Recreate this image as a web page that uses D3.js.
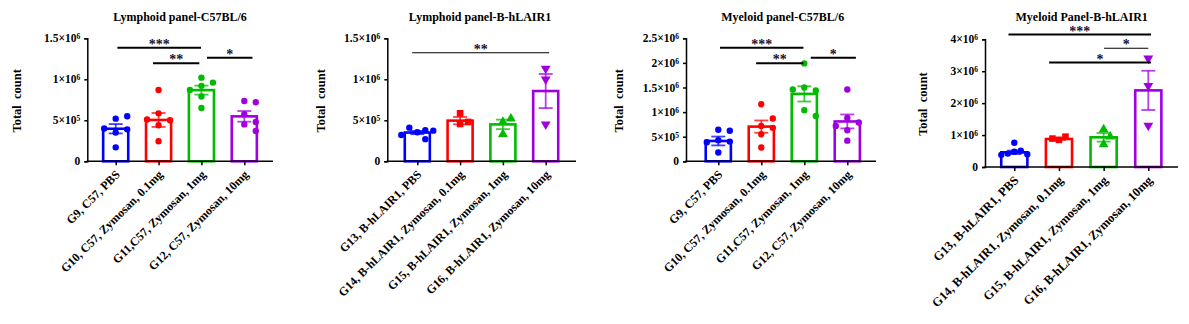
<!DOCTYPE html>
<html><head><meta charset="utf-8">
<script src="https://cdn.jsdelivr.net/npm/d3@7"></script>
<style>
body{margin:0;background:#fff}
text{font-family:"Liberation Serif","Times New Roman",serif;font-weight:bold;fill:#000}
</style>
</head><body>
<svg id="chart" width="1189" height="324"></svg>
<script>
// ---------- DATA ----------
const titles = ["Lymphoid panel-C57BL/6","Lymphoid panel-B-hLAIR1","Myeloid panel-C57BL/6","Myeloid Panel-B-hLAIR1"];
const catsC57 = ["G9, C57, PBS","G10, C57, Zymosan, 0.1mg","G11,C57, Zymosan, 1mg","G12, C57, Zymosan, 10mg"];
const catsB = ["G13, B-hLAIR1, PBS","G14, B-hLAIR1, Zymosan, 0.1mg","G15, B-hLAIR1, Zymosan, 1mg","G16, B-hLAIR1, Zymosan, 10mg"];
const yLabel = "Total  count";

const ticksLym = [0, 500000, 1000000, 1500000];
const ticksMyeC57 = [0, 500000, 1000000, 1500000, 2000000, 2500000];
const ticksMyeB = [0, 1000000, 2000000, 3000000, 4000000];

// Lymphoid C57BL/6
const lymC57Points = [
  [520000, 550000, 350000, 390000, 400000, 170000],
  [870000, 585000, 500000, 440000, 510000, 245000],
  [920000, 960000, 1020000, 870000, 790000, 650000],
  [735000, 720000, 575000, 450000, 480000, 370000]
];
const lymC57Means = [397000, 504000, 868000, 548000];
const lymC57Sems  = [57000, 85000, 55000, 65000];
const lymC57Sig = [[0.04, 1.99, 1385000, "***", 2], [0.87, 1.95, 1195000, "**", 2], [2.13, 3.19, 1263000, "*", 2]];

// Lymphoid B-hLAIR1
const lymBPoints = [
  [354000, 380000, 410000, 374000, 270000, 320000],
  [455000, 585000, 480000],
  [480000, 520000, 330000],
  [1130000, 1000000, 450000]
];
const lymBMeans = [351000, 496000, 450000, 857000];
const lymBSems  = [20000, 45000, 58000, 208000];
const lymBSig = [[-0.12, 3.08, 1324000, "**", 1.2]];

// Myeloid C57BL/6
const myeC57Points = [
  [640000, 620000, 430000, 400000, 386000, 180000],
  [720000, 870000, 1160000, 680000, 550000, 280000],
  [1500000, 1440000, 1990000, 1460000, 1040000, 920000],
  [1460000, 880000, 790000, 720000, 630000, 420000]
];
const myeC57Means = [413000, 705000, 1370000, 810000];
const myeC57Sems  = [90000, 125000, 155000, 142000];
const myeC57Sig = [[0.04, 1.98, 2309000, "***", 2], [0.88, 1.98, 1992000, "**", 2], [2.15, 3.2, 2106000, "*", 2]];

// Myeloid B-hLAIR1
const myeBPoints = [
  [760000, 510000, 480000, 420000, 400000, 380000],
  [850000, 950000, 890000],
  [1180000, 950000, 710000],
  [3400000, 2540000, 1300000]
];
const myeBMeans = [460000, 877000, 930000, 2400000];
const myeBSems  = [55000, 30000, 135000, 615000];
const myeBSig = [[-0.13, 3.06, 4147000, "***", 2], [2.01, 3.0, 3720000, "*", 1.2], [0.78, 3.06, 3270000, "*", 2]];

// ---------- LAYOUT / STYLE ----------
const colors = ["#0000ff", "#ff0000", "#00bb00", "#a000e0"];
const panels = [
  {title: titles[0], cats: catsC57, pts: lymC57Points, means: lymC57Means, sems: lymC57Sems, sig: lymC57Sig, ticks: ticksLym,
   x0: 87.3, x1: 273, y0: 161.3, y1: 38.3, p0: 115.7, p3: 244.3, tx: 180, yl: 17, sym: "circle", sp: 11.5},
  {title: titles[1], cats: catsB, pts: lymBPoints, means: lymBMeans, sems: lymBSems, sig: lymBSig, ticks: ticksLym,
   x0: 387.3, x1: 576, y0: 161.3, y1: 38.3, p0: 417.3, p3: 545.7, tx: 480, yl: 320.7, sym: "mixed", sp: 8},
  {title: titles[2], cats: catsC57, pts: myeC57Points, means: myeC57Means, sems: myeC57Sems, sig: myeC57Sig, ticks: ticksMyeC57,
   x0: 686, x1: 876, y0: 161.3, y1: 38.3, p0: 718.3, p3: 847.3, tx: 782.7, yl: 619.3, sym: "circle", sp: 11.5},
  {title: titles[3], cats: catsB, pts: myeBPoints, means: myeBMeans, sems: myeBSems, sig: myeBSig, ticks: ticksMyeB,
   x0: 985, x1: 1178, y0: 167, y1: 39.3, p0: 1014.3, p3: 1148.3, tx: 1081.7, yl: 922.7, sym: "mixed", sp: 6.5}
];

const svg = d3.select("#chart");
const FONT = '"Liberation Serif","Times New Roman",serif';
const symTypes = [d3.symbolCircle, d3.symbolSquare, d3.symbolTriangle, d3.symbolTriangle];
const symSizes = [32, 44, 42, 42];

function supLabel(sel, v) {
  sel.text(null);
  if (v === 0) { sel.text("0"); return; }
  const e = Math.floor(Math.log10(v) + 1e-9);
  const m = +(v / Math.pow(10, e)).toFixed(2);
  sel.append("tspan").text(m + "\u00d710");
  sel.append("tspan").attr("dy", "-0.45em").attr("font-size", "7.5px").text(e);
}

panels.forEach(P => {
  const g = svg.append("g");
  const ymax = P.ticks[P.ticks.length - 1];
  const y = d3.scaleLinear().domain([0, ymax]).range([P.y0, P.y1]);
  const x = d3.scalePoint().domain(P.cats).range([P.p0, P.p3]);
  const step = x.step();
  const fx = f => P.p0 + f * step;
  const bw = step * 0.585;

  g.append("text").attr("x", P.tx).attr("y", 21).attr("text-anchor", "middle")
    .attr("font-size", "12px").text(P.title);
  g.append("text").attr("transform", `translate(${P.yl + 4},${(P.y0 + P.y1) / 2 + 1}) rotate(-90)`)
    .attr("text-anchor", "middle").attr("font-size", "12.5px").attr("xml:space", "preserve").text(yLabel);

  P.cats.forEach((c, i) => {
    g.append("rect").attr("x", x(c) - bw / 2).attr("y", y(P.means[i]))
      .attr("width", bw).attr("height", P.y0 - y(P.means[i]))
      .attr("fill", "none").attr("stroke", colors[i]).attr("stroke-width", 2.6);
  });

  P.cats.forEach((c, i) => {
    const cx = x(c), hi = y(P.means[i] + P.sems[i]), lo = y(P.means[i] - P.sems[i]);
    const eg = g.append("g").attr("stroke", colors[i]).attr("stroke-width", 1.8).attr("stroke-opacity", 0.75);
    eg.append("line").attr("x1", cx).attr("x2", cx).attr("y1", hi).attr("y2", lo);
    eg.append("line").attr("x1", cx - 7).attr("x2", cx + 7).attr("y1", hi).attr("y2", hi);
    eg.append("line").attr("x1", cx - 7).attr("x2", cx + 7).attr("y1", lo).attr("y2", lo);
  });

  P.cats.forEach((c, i) => {
    const placed = [];
    const order = [0, 1, -1, 2, -2, 3, -3];
    P.pts[i].forEach(v => {
      const py = y(v);
      let off = 0;
      for (const k of order) {
        const px = x(c) + k * P.sp;
        if (!placed.some(q => Math.abs(q[0] - px) < P.sp * 0.9 && Math.abs(q[1] - py) < 8)) { off = k * P.sp; break; }
      }
      placed.push([x(c) + off, py]);
    });
    placed.forEach(([px, py]) => {
      const si = P.sym === "circle" ? 0 : i;
      g.append("path").attr("d", d3.symbol().type(symTypes[si]).size(symSizes[si])())
        .attr("transform", `translate(${px},${py})` + (si === 3 ? " rotate(180)" : ""))
        .attr("fill", colors[i]);
    });
  });

  const ya = d3.axisLeft(y).tickValues(P.ticks).tickSize(3).tickPadding(4);
  const yg = g.append("g").attr("transform", `translate(${P.x0},0)`).call(ya)
    .attr("font-family", FONT).attr("font-weight", "bold");
  yg.select(".domain").attr("stroke-width", 1.5);
  yg.selectAll(".tick line").attr("stroke-width", 1.5);
  yg.selectAll(".tick text").attr("font-size", "11.5px").style("font-family", FONT)
    .each(function(v){ supLabel(d3.select(this), v); });

  g.append("line").attr("x1", P.x0 - 0.75).attr("x2", P.x1).attr("y1", P.y0).attr("y2", P.y0)
    .attr("stroke", "#000").attr("stroke-width", 1.5);
  const xa = d3.axisBottom(x).tickSize(4).tickFormat("");
  const xg = g.append("g").attr("transform", `translate(0,${P.y0})`).call(xa);
  xg.select(".domain").remove();
  xg.selectAll(".tick line").attr("stroke-width", 1.5);

  P.cats.forEach(c => {
    g.append("text").attr("transform", `translate(${x(c) + 5},${P.y0 + 14}) rotate(-45)`)
      .attr("text-anchor", "end").attr("font-size", P.y0 > 165 ? "12.5px" : "12px").text(c);
  });

  P.sig.forEach(([a, b, v, t, w]) => {
    const yy = y(v);
    g.append("line").attr("x1", fx(a)).attr("x2", fx(b)).attr("y1", yy).attr("y2", yy)
      .attr("stroke", "#000").attr("stroke-width", w);
    g.append("text").attr("x", (fx(a) + fx(b)) / 2).attr("y", yy + 1).attr("text-anchor", "middle")
      .attr("font-size", "14px").style("fill", "#1a1030").text(t);
  });
});
</script>
</body></html>
